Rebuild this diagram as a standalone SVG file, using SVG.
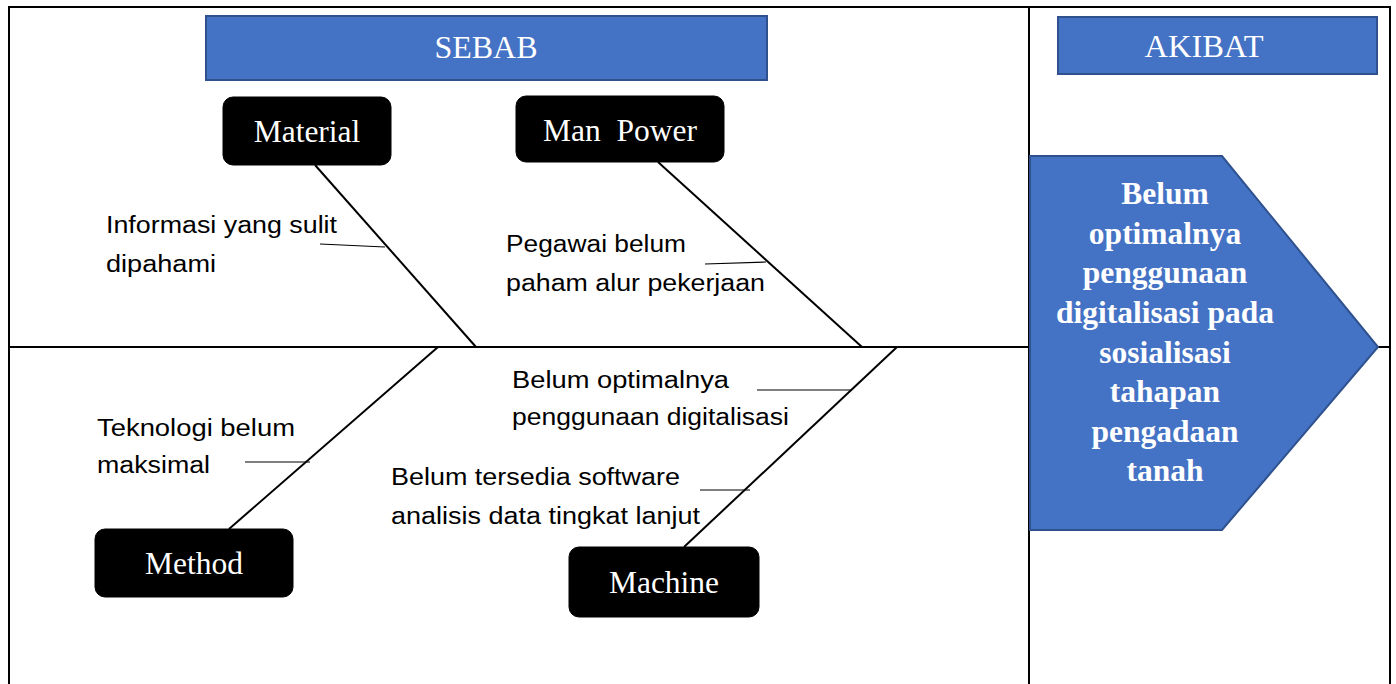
<svg xmlns="http://www.w3.org/2000/svg" width="1396" height="684" viewBox="0 0 1396 684">
<style>
.hdr{fill:#4472C4;stroke:#2F528F;stroke-width:2}
.hdrt{font-family:"Liberation Serif",serif;font-size:32px;fill:#fff;text-anchor:middle}
.cat{fill:#000;stroke:#000}
.catt{font-family:"Liberation Serif",serif;font-size:31.5px;fill:#fff;text-anchor:middle}
.lbl{font-family:"Liberation Sans",Arial,sans-serif;font-size:23px;fill:#000}
.eff{font-family:"Liberation Serif",serif;font-size:31.5px;font-weight:bold;fill:#fff;text-anchor:middle}
.bone{stroke:#000;stroke-width:2;fill:none}
.tick{stroke:#000;stroke-width:1.2;fill:none}
.frame{stroke:#000;stroke-width:2;fill:none}
</style>
<rect width="1396" height="684" fill="#fff"/>
<g id="frame">
<path class="frame" d="M9,686 V7 H1390 V686"/>
<line class="frame" x1="1029" y1="7" x2="1029" y2="686"/>
</g>
<g id="connectors">
<line class="bone" x1="9" y1="347" x2="1029" y2="347"/>
<line class="bone" x1="1370" y1="347" x2="1390" y2="347"/>
<line class="bone" x1="315" y1="165" x2="476" y2="347"/>
<line class="bone" x1="658" y1="162" x2="862" y2="347"/>
<line class="bone" x1="438" y1="347" x2="229" y2="529"/>
<line class="bone" x1="897" y1="347" x2="684" y2="547"/>
<line class="tick" x1="320" y1="244" x2="385" y2="247"/>
<line class="tick" x1="705" y1="264" x2="766" y2="262"/>
<line class="tick" x1="757" y1="390" x2="851" y2="390"/>
<line class="tick" x1="700" y1="490" x2="750" y2="490"/>
<line class="tick" x1="245" y1="462" x2="310" y2="462"/>
</g>
<g id="sebab">
<rect class="hdr" x="206" y="16" width="561" height="64"/>
<text class="hdrt" x="486" y="58">SEBAB</text>
</g>
<g id="akibat">
<rect class="hdr" x="1058" y="17" width="319" height="57"/>
<text class="hdrt" x="1204" y="57" textLength="119" lengthAdjust="spacingAndGlyphs">AKIBAT</text>
</g>
<g id="material">
<rect class="cat" x="223" y="97" width="168" height="68" rx="10"/>
<text class="catt" x="307" y="142">Material</text>
</g>
<g id="manpower">
<rect class="cat" x="516" y="96" width="208" height="66" rx="10"/>
<text class="catt" x="620" y="141" xml:space="preserve">Man  Power</text>
</g>
<g id="method">
<rect class="cat" x="95" y="529" width="198" height="68" rx="10"/>
<text class="catt" x="194" y="574">Method</text>
</g>
<g id="machine">
<rect class="cat" x="569" y="547" width="190" height="70" rx="10"/>
<text class="catt" x="664" y="593">Machine</text>
</g>
<g id="effect">
<path d="M1030,156 H1222 L1378,347 L1222,530 H1030 Z" fill="#4472C4" stroke="#2F528F" stroke-width="2"/>
<text class="eff" x="1165" y="204">Belum</text>
<text class="eff" x="1165" y="244">optimalnya</text>
<text class="eff" x="1165" y="283">penggunaan</text>
<text class="eff" x="1165" y="323">digitalisasi pada</text>
<text class="eff" x="1165" y="363">sosialisasi</text>
<text class="eff" x="1165" y="402">tahapan</text>
<text class="eff" x="1165" y="442">pengadaan</text>
<text class="eff" x="1165" y="481">tanah</text>
</g>
<g id="labels">
<text class="lbl" x="106" y="233" textLength="231" lengthAdjust="spacingAndGlyphs">Informasi yang sulit</text>
<text class="lbl" x="106" y="272" textLength="110" lengthAdjust="spacingAndGlyphs">dipahami</text>
<text class="lbl" x="506" y="252" textLength="180" lengthAdjust="spacingAndGlyphs">Pegawai belum</text>
<text class="lbl" x="506" y="291" textLength="259" lengthAdjust="spacingAndGlyphs">paham alur pekerjaan</text>
<text class="lbl" x="512" y="388" textLength="217" lengthAdjust="spacingAndGlyphs">Belum optimalnya</text>
<text class="lbl" x="512" y="425" textLength="277" lengthAdjust="spacingAndGlyphs">penggunaan digitalisasi</text>
<text class="lbl" x="391" y="485" textLength="289" lengthAdjust="spacingAndGlyphs">Belum tersedia software</text>
<text class="lbl" x="391" y="524" textLength="309" lengthAdjust="spacingAndGlyphs">analisis data tingkat lanjut</text>
<text class="lbl" x="97" y="436" textLength="198" lengthAdjust="spacingAndGlyphs">Teknologi belum</text>
<text class="lbl" x="97" y="473" textLength="113" lengthAdjust="spacingAndGlyphs">maksimal</text>
</g>
</svg>
